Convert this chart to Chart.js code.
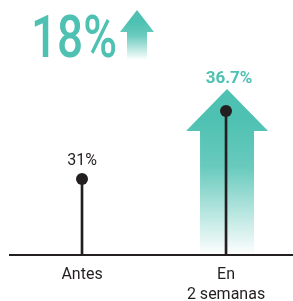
<!DOCTYPE html>
<html>
<head>
<meta charset="utf-8">
<script src="https://cdn.jsdelivr.net/npm/chart.js@4/dist/chart.umd.min.js"></script>
<style>
  html, body { margin: 0; padding: 0; background: #fff; }
  #wrap { width: 293px; height: 301px; position: relative; }
</style>
</head>
<body>
<div id="wrap"><canvas id="chart"></canvas></div>
<script>
// Data
const categories = ['Antes', ['En', '2 semanas']];
const values = [31, 36.7];
const valueLabels = ['31%', '36.7%'];
const headline = '18%';

const TEAL = '#4ec1b2';
const DARK = '#231f20';

function arrowPath(ctx, cx, tipY, wingY, bottomY, wingHalf, shaftHalf) {
    ctx.beginPath();
    ctx.moveTo(cx, tipY);
    ctx.lineTo(cx + wingHalf, wingY);
    ctx.lineTo(cx + shaftHalf, wingY);
    ctx.lineTo(cx + shaftHalf, bottomY);
    ctx.lineTo(cx - shaftHalf, bottomY);
    ctx.lineTo(cx - shaftHalf, wingY);
    ctx.lineTo(cx - wingHalf, wingY);
    ctx.closePath();
}

function fadeFill(ctx, top, bottom) {
    const g = ctx.createLinearGradient(0, top, 0, bottom);
    g.addColorStop(0, TEAL);
    g.addColorStop(0.35, 'rgba(78,193,178,0.85)');
    g.addColorStop(1, 'rgba(78,193,178,0)');
    return g;
}

// big arrow behind the second lollipop + small arrow next to the headline
const arrowPlugin = {
    id: 'arrows',
    beforeDatasetsDraw(chart) {
        const { ctx, chartArea } = chart;
        const pt = chart.getDatasetMeta(0).data[1];
        const cx = pt.x + 1;
        const tip = pt.y - 22;
        ctx.save();
        arrowPath(ctx, cx, tip, tip + 42, chartArea.bottom, 41, 27);
        ctx.fillStyle = fadeFill(ctx, tip + 30, chartArea.bottom);
        ctx.fill();

        arrowPath(ctx, 137, 10, 32, 60, 17, 10);
        ctx.fillStyle = fadeFill(ctx, 22, 60);
        ctx.fill();
        ctx.restore();
    }
};

const labelPlugin = {
    id: 'labels',
    afterDraw(chart) {
        const { ctx } = chart;
        const pts = chart.getDatasetMeta(0).data;
        ctx.save();
        ctx.textAlign = 'center';
        ctx.textBaseline = 'alphabetic';
        // first value: plain dark, second: bold teal above the arrow
        ctx.fillStyle = DARK;
        ctx.font = '16px Roboto';
        ctx.fillText(valueLabels[0], pts[0].x, pts[0].y - 14);
        ctx.fillStyle = TEAL;
        ctx.font = 'bold 17px Roboto';
        ctx.fillText(valueLabels[1], pts[1].x + 3, pts[1].y - 28);

        // headline, condensed to match the narrow face
        ctx.font = '500 60px Roboto';
        ctx.textAlign = 'left';
        const w = ctx.measureText(headline).width;
        const sx = 86 / w;
        ctx.translate(31, 57);
        ctx.scale(sx, 1);
        ctx.fillText(headline, 0, 0);
        ctx.restore();
    }
};

new Chart(document.getElementById('chart'), {
    type: 'bar',
    data: {
        datasets: [
            {
                type: 'scatter',
                data: values.map((v, i) => ({ x: i, y: v })),
                pointRadius: 6,
                pointHoverRadius: 6,
                backgroundColor: DARK,
                borderWidth: 0
            },
            {
                type: 'bar',
                data: values.map((v, i) => ({ x: i, y: v })),
                backgroundColor: DARK,
                barThickness: 2
            }
        ]
    },
    options: {
        responsive: true,
        maintainAspectRatio: false,
        animation: false,
        layout: { autoPadding: false, padding: { left: 10, right: 0, top: 20, bottom: 0 } },
        plugins: { legend: { display: false }, tooltip: { enabled: false } },
        scales: {
            x: {
                type: 'linear',
                offset: false,
                min: -0.5,
                max: 1.465,
                grid: { display: false },
                border: { display: true, color: DARK, width: 2 },
                afterBuildTicks: (scale) => {
                    scale.ticks = categories.map((c, i) => ({ value: i }));
                },
                afterFit: (scale) => { scale.height = 46; },
                ticks: {
                    color: DARK,
                    font: { family: 'Roboto', size: 16, lineHeight: 1.25 },
                    padding: 2,
                    maxRotation: 0,
                    autoSkip: false,
                    callback: (v) => categories[v]
                }
            },
            y: {
                display: false,
                min: 24.63,
                max: 44.33
            }
        }
    },
    plugins: [arrowPlugin, labelPlugin]
});
</script>
</body>
</html>
